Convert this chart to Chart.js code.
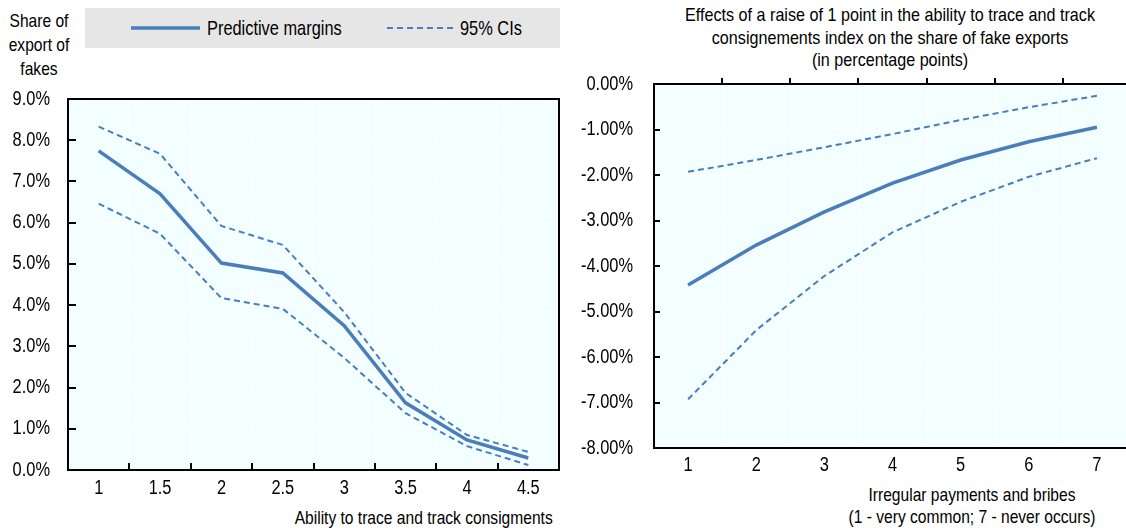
<!DOCTYPE html>
<html>
<head>
<meta charset="utf-8">
<script src="https://cdn.jsdelivr.net/npm/chart.js"></script>
<style>
  html, body { margin: 0; padding: 0; background: #fff; overflow: hidden; }
  body { width: 1126px; height: 528px; position: relative;
         font-family: 'Liberation Sans', Arial, sans-serif;
         font-size: 19px; color: #000; }
  canvas { position: absolute; }
  .txt { position: absolute; white-space: nowrap; line-height: 23px; transform: scaleX(0.82); }
  #legend { position: absolute; left: 85px; top: 8px; width: 475px; height: 40px; background: #e6e6e6; }
  #legend svg { position: absolute; left: 0; top: 0; }
</style>
</head>
<body>
<div class="txt" style="left:-2px; top:9px; width:82px; text-align:center; line-height:24px;">Share of<br>export of<br>fakes</div>
<div id="legend">
  <svg width="475" height="40" font-family="'Liberation Sans', Arial, sans-serif" font-size="20">
    <line x1="46" y1="20" x2="115" y2="20" stroke="#4A7EBB" stroke-width="3.5"/>
    <text transform="translate(122,27) scale(0.82,1)">Predictive margins</text>
    <line x1="302" y1="20" x2="368" y2="20" stroke="#4A7EBB" stroke-width="2" stroke-dasharray="6,4"/>
    <text transform="translate(375,27) scale(0.82,1)">95% CIs</text>
  </svg>
</div>
<div class="txt" style="right:573px; top:506px; transform-origin: right center;">Ability to trace and track consigments</div>

<div class="txt" style="left:614px; top:4px; width:552px; text-align:center; line-height:22.5px; transform: scaleX(0.85);">Effects of a raise of 1 point in the ability to trace and track<br>consignements index on the share of fake exports<br>(in percentage points)</div>
<div class="txt" style="left:772px; top:484px; width:400px; text-align:center; line-height:22px;">Irregular payments and bribes<br>(1 - very common; 7 - never occurs)</div>

<canvas id="leftChart" width="570" height="438" style="left:0; top:90px;"></canvas>
<canvas id="rightChart" width="570" height="458" style="left:570px; top:70px;"></canvas>

<script>
// left panel: share of fake exports by trace-and-track ability
const leftCats = ['1', '1.5', '2', '2.5', '3', '3.5', '4', '4.5'];
const leftMargins = [7.74, 6.70, 5.02, 4.78, 3.50, 1.63, 0.73, 0.29];
const leftUpper = [8.33, 7.67, 5.92, 5.46, 3.83, 1.87, 0.85, 0.44];
const leftLower = [6.46, 5.73, 4.17, 3.91, 2.72, 1.38, 0.58, 0.12];
const leftYTicks = ['0.0%', '1.0%', '2.0%', '3.0%', '4.0%', '5.0%', '6.0%', '7.0%', '8.0%', '9.0%'];

// right panel: marginal effect by level of irregular payments
const rightCats = ['1', '2', '3', '4', '5', '6', '7'];
const rightMargins = [-4.42, -3.54, -2.81, -2.18, -1.67, -1.27, -0.95];
const rightUpper = [-1.93, -1.67, -1.39, -1.10, -0.79, -0.51, -0.26];
const rightLower = [-6.93, -5.41, -4.22, -3.26, -2.59, -2.04, -1.63];
const rightYTicks = ['-8.00%', '-7.00%', '-6.00%', '-5.00%', '-4.00%', '-3.00%', '-2.00%', '-1.00%', '0.00%'];

const FONT = "20px 'Liberation Sans', Arial, sans-serif";
const NARROW = 0.82;
const BLUE = '#4A7EBB';

// narrow text, squeezed horizontally around its anchor
function narrowText(ctx, text, x, y, align) {
    ctx.save();
    ctx.translate(x, y);
    ctx.scale(NARROW, 1);
    ctx.textAlign = align;
    ctx.textBaseline = 'middle';
    ctx.fillText(text, 0, 0);
    ctx.restore();
}

// plot background, black frame, short tick marks and tick labels
const framePlugin = {
    id: 'frame',
    beforeDraw(chart, args, opts) {
        const a = chart.chartArea, ctx = chart.ctx;
        ctx.save();
        ctx.fillStyle = opts.bg;
        ctx.fillRect(a.left, a.top, a.right - a.left, a.bottom - a.top);
        ctx.restore();
    },
    afterDraw(chart, args, opts) {
        const a = chart.chartArea, ctx = chart.ctx;
        const xs = chart.scales.x, ys = chart.scales.y;
        ctx.save();
        ctx.strokeStyle = '#000';
        ctx.lineWidth = 2;
        ctx.strokeRect(a.left, a.top, a.right - a.left, a.bottom - a.top);
        ctx.beginPath();
        ys.ticks.forEach((t, i) => {
            const py = Math.round(ys.getPixelForTick(i));
            ctx.moveTo(a.left, py);
            ctx.lineTo(a.left + opts.yTick, py);
        });
        const n = xs.ticks.length;
        const step = xs.getPixelForTick(1) - xs.getPixelForTick(0);
        const last = opts.xTickTop ? n + 1 : n;
        for (let i = 1; i < last; i++) {
            const px = Math.round(xs.getPixelForTick(0) + (i - 0.5) * step);
            if (opts.xTickTop) {
                ctx.moveTo(px, a.top);
                ctx.lineTo(px, a.top - opts.xTick);
            } else {
                ctx.moveTo(px, a.bottom);
                ctx.lineTo(px, a.bottom - opts.xTick);
            }
        }
        ctx.stroke();

        ctx.fillStyle = '#000';
        ctx.font = FONT;
        ys.ticks.forEach((t, i) => {
            narrowText(ctx, opts.yLabels[i], a.left - opts.yPad, ys.getPixelForTick(i), 'right');
        });
        xs.ticks.forEach((t, i) => {
            narrowText(ctx, opts.xLabels[i], xs.getPixelForTick(i), a.bottom + opts.xPad, 'center');
        });
        ctx.restore();
    }
};

function makeDatasets(mid, up, low) {
    const dashed = { borderColor: BLUE, borderWidth: 2, borderDash: [6, 4], pointRadius: 0, fill: false, tension: 0 };
    return [
        { label: 'Predictive margins', data: mid, borderColor: BLUE, borderWidth: 3.5, pointRadius: 0, fill: false, tension: 0 },
        Object.assign({ label: '95% CIs', data: up }, dashed),
        Object.assign({ label: '95% CIs (low)', data: low }, dashed)
    ];
}

function makeChart(id, cats, mid, up, low, yMin, yMax, cfg) {
    return new Chart(document.getElementById(id), {
        type: 'line',
        data: { labels: cats, datasets: makeDatasets(mid, up, low) },
        plugins: [framePlugin],
        options: {
            responsive: false,
            animation: false,
            layout: { padding: cfg.padding },
            plugins: {
                legend: { display: false },
                tooltip: { enabled: false },
                frame: cfg.frame
            },
            scales: {
                x: {
                    offset: true,
                    grid: { offset: true, color: '#ffffff', lineWidth: 1, drawTicks: false },
                    border: { display: false },
                    ticks: { display: false },
                    afterFit: s => { s.height = cfg.xHeight; s.paddingLeft = 0; s.paddingRight = 0; }
                },
                y: {
                    min: yMin,
                    max: yMax,
                    grid: { color: '#ffffff', lineWidth: 1, drawTicks: false },
                    border: { display: false },
                    ticks: { display: false, stepSize: 1 },
                    afterFit: s => { s.width = cfg.yWidth; s.paddingTop = 0; s.paddingBottom = 0; }
                }
            }
        }
    });
}

makeChart('leftChart', leftCats, leftMargins, leftUpper, leftLower, 0, 9, {
    padding: { top: 9, right: 11, left: 0, bottom: 0 },
    xHeight: 58, yWidth: 68,
    frame: { bg: '#F2FEFF', yTick: 8, xTick: 7, xTickTop: false,
             yLabels: leftYTicks, xLabels: leftCats, yPad: 18, xPad: 18 }
});

makeChart('rightChart', rightCats, rightMargins, rightUpper, rightLower, -8, 0, {
    padding: { top: 14, right: 9, left: 0, bottom: 0 },
    xHeight: 80, yWidth: 84,
    frame: { bg: '#F2FEFF', yTick: 6, xTick: 6, xTickTop: true,
             yLabels: rightYTicks, xLabels: rightCats, yPad: 21, xPad: 17 }
});
</script>
</body>
</html>
